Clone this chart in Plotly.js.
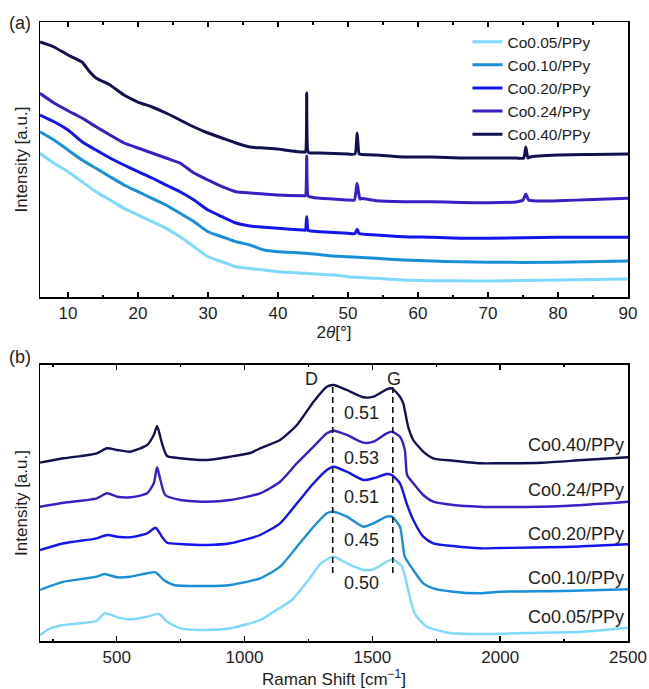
<!DOCTYPE html>
<html><head><meta charset="utf-8">
<script src="https://cdn.plot.ly/plotly-3.0.1.min.js"></script>
<style>html,body{margin:0;padding:0;background:#fff}</style>
</head><body><div id="chart" style="width:649px;height:689px"></div>
<script>
// ---------- names & colours ----------
const seriesNames = ['Co0.05/PPy','Co0.10/PPy','Co0.20/PPy','Co0.24/PPy','Co0.40/PPy'];
const seriesColors = ['#7fd9fa','#1a8fd8','#1414ee','#3a20c4','#11114f'];

// ---------- (a) XRD ----------
const xrd_x_Co005 = [6,8,10,12,14,16,18,20,22,24,26,28,30,32,34,36,38,40,44,48,50,54,58,62,66,70,80,90];
const xrd_y_Co005 = [143.7,133.7,125.3,115.3,105.3,97,88.7,82,75.3,68.7,60.3,50.3,40.3,35.3,30.3,28.5,27,25.3,23.7,22,20.3,18.7,17,16.3,16.3,16,17,18];

const xrd_x_Co010 = [6,8,10,12,14,16,18,20,22,24,26,28,30,32,34,36,38,40,44,48,50,54,58,62,66,70,80,90];
const xrd_y_Co010 = [165.3,157,147,137,128.7,120.3,112,105.3,98.7,92,83.7,75.3,65.3,60.3,55.3,52,47,45.3,43.7,41,40.3,38.7,37,36,35.3,34.7,34.7,36];

const xrd_x_Co020 = [6,8,10,12,14,16,18,20,22,24,26,28,30,32,34,36,38,40,43.5,43.9,44.1,44.3,44.7,46,50,51.0,51.3,51.6,54,58,62,66,70,80,90];
const xrd_y_Co020 = [182,175.3,167,155.3,147,139,132,125.3,119,112,105.3,97,87,80.3,74,71,69.7,68.7,67,67,80.3,66.5,66,65.3,63.7,63.5,67.7,63.5,62,60.3,59.7,58.7,58.7,59.7,59.7];

const xrd_x_Co024 = [6,8,10,12,14,16,18,20,22,24,26,27,28,30,32,34,36,38,40,43.5,43.9,44.1,44.3,44.7,46,48,50,50.9,51.3,51.7,52,54,58,62,66,70,74,75.0,75.4,75.8,77,80,85,90];
const xrd_y_Co024 = [203.7,194,186.3,179,170.3,162,154,149,144,139,134,129,124,117,110.3,105.3,104,103,102,101.3,101.3,141,101,100,98.7,98,97,97,113.7,98,98.5,96.3,95.3,95.3,94.5,94.3,95,97,103,97,96,96.3,97.5,98.7];

const xrd_x_Co040 = [6,8,10,12,13,14,16,18,20,22,24,26,28,30,32,34,36,38,40,42,43.5,43.9,44.1,44.3,44.7,46,48,50,51.0,51.3,51.6,52,54,58,62,66,70,74,75.1,75.4,75.7,76,80,85,90];
const xrd_y_Co040 = [255,250,242,235,226,219,212,202,195,190,184,177,170,164,159,154,150,149,148,146,145,145,204,145,144,144,143.5,143,143,164,143,142.5,142,140,140,139,139,139,139,150,139,140,142,142.5,143];

// ---------- (b) Raman ----------
const ram_x_Co005 = [200,240,293,358,423,452,502,553,619,665,697,749,853,944,1061,1104,1185,1250,1299,1348,1400,1465,1504,1556,1580,1616,1643,1665,1713,1795,1910,2154,2324,2500];
const ram_y_Co005 = [6,12.7,16,17.7,20.3,27.7,23.7,21.7,24.3,27,19.3,12.7,11,12.7,21,27.7,41,61,77.7,84.3,77.7,71,71.7,79.3,81.7,74.3,47.7,27.7,14.3,8.3,7,8.3,9.3,13.3];

const ram_x_Co010 = [200,293,423,452,502,553,619,652,684,723,853,944,1061,1139,1205,1270,1322,1348,1400,1465,1504,1556,1576,1608,1627,1660,1699,1738,1816,1921,2000,2250,2500];
const ram_y_Co010 = [51,59.3,64.3,67,63.7,64.3,67.7,68.7,61,56,55,56,62.7,74.3,94.3,114.3,127.7,129.3,124.3,114.3,117.7,124.3,124.3,114.3,84.3,71,57.7,52.7,49.3,47.7,49.3,50,51.7];

const ram_x_Co020 = [200,293,423,462,502,553,619,652,677,697,749,853,944,1061,1139,1205,1270,1322,1348,1400,1465,1504,1556,1576,1608,1634,1660,1699,1738,1816,1921,2000,2250,2500];
const ram_y_Co020 = [91,97.7,102.7,106,104.3,103.7,107.7,113.3,104.3,98.3,97,96,97.7,106,117.7,137.7,157.7,171,174.3,169.3,161,162.7,167,166,157.7,137.7,121,104.3,97.7,95,92.7,93,94,96.7];

const ram_x_Co024 = [200,293,423,462,502,553,619,645,658,671,690,749,853,944,1061,1139,1205,1270,1322,1348,1400,1465,1504,1556,1576,1608,1627,1636,1660,1699,1738,1816,1921,2000,2250,2500];
const ram_y_Co024 = [134.3,138.3,142.7,147.7,144.3,143.7,147.7,157.7,173.7,161,146,141,139.3,141,147.7,159.3,177.7,194.3,207.7,210.3,206,198.3,199.3,207.7,209.3,204.3,191,166,157.7,146,139.3,136,134.3,134,135,139.3];

const ram_x_Co040 = [200,293,423,462,502,553,619,645,658,677,697,749,853,944,1022,1061,1139,1205,1270,1322,1348,1400,1465,1504,1556,1576,1608,1621,1640,1660,1699,1738,1816,1921,2000,2162,2324,2500];
const ram_y_Co040 = [178.3,182.7,187.7,192.7,191,189.3,196,206,215,197.7,185,182.7,181,184.3,188,192.7,201,216,239.3,254.3,256,251,243.7,244.3,251.7,252.7,244.3,237.7,214.3,201,189.3,182.7,180.3,177.7,177.7,178.3,181,183.7];

// D / G band positions, and ratio labels per sample
const bandLabels = ['D','G'];
const bandPositions = [1345, 1580];
const bandLineSpan = [68, 255];
const ratioLabels = ['0.50','0.45','0.51','0.53','0.51'];

const xrdX = [xrd_x_Co005,xrd_x_Co010,xrd_x_Co020,xrd_x_Co024,xrd_x_Co040];
const xrdY = [xrd_y_Co005,xrd_y_Co010,xrd_y_Co020,xrd_y_Co024,xrd_y_Co040];
const ramX = [ram_x_Co005,ram_x_Co010,ram_x_Co020,ram_x_Co024,ram_x_Co040];
const ramY = [ram_y_Co005,ram_y_Co010,ram_y_Co020,ram_y_Co024,ram_y_Co040];

// label placements (layout)
const ratioLabelY = [57.7,101,144.3,182.7,227.7];
const rightLabelY = [23.7,62.7,107,151,196];

const FONT = 'Liberation Sans, Arial, Helvetica, sans-serif';
const TXT = '#1e1e1e';

const traces = [];
for (let i = 0; i < 5; i++) {
  traces.push({x: xrdX[i], y: xrdY[i], type:'scatter', mode:'lines', name: seriesNames[i],
    line:{color: seriesColors[i], width:3, shape:'spline', smoothing:0.5}, xaxis:'x', yaxis:'y'});
}
for (let i = 0; i < 5; i++) {
  traces.push({x: ramX[i], y: ramY[i], type:'scatter', mode:'lines', name: seriesNames[i],
    showlegend:false, line:{color: seriesColors[i], width:2.4, shape:'spline', smoothing:0.6}, xaxis:'x2', yaxis:'y2'});
}
for (let k = 0; k < bandPositions.length; k++) {
  traces.push({x:[bandPositions[k], bandPositions[k]], y: bandLineSpan, type:'scatter', mode:'lines',
    showlegend:false, line:{color:'#111', width:1.6, dash:'6px,4px'}, xaxis:'x2', yaxis:'y2', hoverinfo:'skip'});
}

const annotations = [];
annotations.push({xref:'paper', yref:'paper', x:-0.034, y:0.9984, text:'(a)', showarrow:false, xanchor:'center', yanchor:'middle', font:{family:FONT,size:18,color:TXT}});
annotations.push({xref:'paper', yref:'paper', x:-0.034, y:0.4593, text:'(b)', showarrow:false, xanchor:'center', yanchor:'middle', font:{family:FONT,size:18,color:TXT}});
annotations.push({xref:'x2', yref:'y2', x:1262, y:262, text:bandLabels[0], showarrow:false, font:{family:FONT,size:18,color:TXT}});
annotations.push({xref:'x2', yref:'y2', x:1585, y:262, text:bandLabels[1], showarrow:false, font:{family:FONT,size:18,color:TXT}});
for (let i = 0; i < 5; i++) {
  annotations.push({xref:'x2', yref:'y2', x:1458, y:ratioLabelY[i], text:ratioLabels[i], showarrow:false, font:{family:FONT,size:18,color:TXT}});
  annotations.push({xref:'x2', yref:'y2', x:2494, y:rightLabelY[i], text:seriesNames[i], showarrow:false, xanchor:'right', font:{family:FONT,size:18,color:TXT}});
}

const axisCommon = {showline:true, linecolor:'#000', linewidth:1.5, mirror:'ticks', showgrid:false, zeroline:false,
  ticks:'inside', ticklen:5, tickwidth:1.5, tickcolor:'#000', tickfont:{family:FONT,size:17,color:TXT}};
const yCommon = {showline:true, linecolor:'#000', linewidth:1.5, mirror:true, showgrid:false, zeroline:false,
  ticks:'', showticklabels:false};

const layout = {
  width:649, height:689, margin:{l:40, r:21, t:22, b:48}, paper_bgcolor:'#fff', plot_bgcolor:'#fff',
  font:{family:FONT, color:TXT},
  showlegend:true,
  legend:{x:0.727, y:0.995, xanchor:'left', yanchor:'top', bgcolor:'rgba(0,0,0,0)', font:{family:FONT,size:15.5,color:TXT}, tracegroupgap:0},
  xaxis: Object.assign({}, axisCommon, {domain:[0,1], anchor:'y', range:[6,90], tick0:0, dtick:10,
    minor:{dtick:5, ticks:'inside', ticklen:2.5, tickwidth:1.5, tickcolor:'#000', showgrid:false},
    title:{text:'2<i>θ</i>[°]', font:{family:FONT,size:17,color:TXT}, standoff:3}}),
  yaxis: Object.assign({}, yCommon, {domain:[0.5557,1], anchor:'x', range:[0,275],
    title:{text:'Intensity [a.u.]', font:{family:FONT,size:17,color:TXT}, standoff:6}}),
  xaxis2: Object.assign({}, axisCommon, {domain:[0,1], anchor:'y2', range:[200,2500], tick0:0, dtick:500,
    minor:{dtick:250, ticks:'inside', ticklen:2.5, tickwidth:1.5, tickcolor:'#000', showgrid:false},
    title:{text:'Raman Shift [cm<sup>−1</sup>]', font:{family:FONT,size:17,color:TXT}, standoff:8}}),
  yaxis2: Object.assign({}, yCommon, {domain:[0,0.4459], anchor:'x2', range:[0,276],
    title:{text:'Intensity [a.u.]', font:{family:FONT,size:17,color:TXT}, standoff:6}}),
  annotations: annotations
};

Plotly.newPlot('chart', traces, layout, {displayModeBar:false, staticPlot:true});
</script></body></html>
